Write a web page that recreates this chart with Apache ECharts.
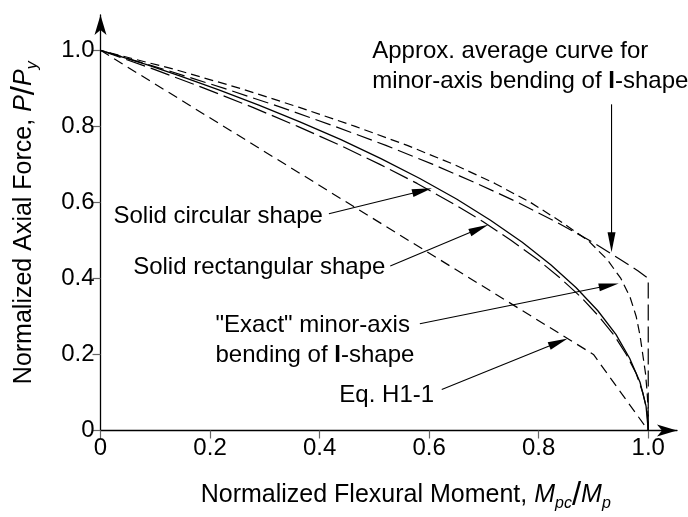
<!DOCTYPE html>
<html>
<head>
<meta charset="utf-8">
<script src="https://cdn.jsdelivr.net/npm/echarts@6/dist/echarts.min.js"></script>
<style>
  html, body { margin: 0; padding: 0; background: #fff; }
  #chart { width: 688px; height: 517px; }
</style>
</head>
<body>
<div id="chart"></div>
<script>
// Tick positions and their printed labels (both axes use the same set)
const tickValues = [0, 0.2, 0.4, 0.6, 0.8, 1.0];
const tickLabels = ['0', '0.2', '0.4', '0.6', '0.8', '1.0'];

// Interaction curves, each point is [M/Mp, P/Py]
const eqH11 = [[0, 1], [0.9, 0.2], [1, 0]];

const solidCircular = [
  [1, 0], [0.996, 0.064], [0.985, 0.127], [0.966, 0.19], [0.941, 0.253],
  [0.908, 0.315], [0.868, 0.376], [0.822, 0.436], [0.77, 0.495], [0.712, 0.553],
  [0.65, 0.609], [0.583, 0.663], [0.512, 0.715], [0.439, 0.765], [0.364, 0.812],
  [0.289, 0.856], [0.216, 0.896], [0.146, 0.932], [0.083, 0.963], [0.03, 0.987], [0, 1]
];

const solidRectangular = [
  [1, 0], [0.998, 0.05], [0.99, 0.1], [0.978, 0.15], [0.96, 0.2], [0.938, 0.25],
  [0.91, 0.3], [0.878, 0.35], [0.84, 0.4], [0.798, 0.45], [0.75, 0.5], [0.698, 0.55],
  [0.64, 0.6], [0.578, 0.65], [0.51, 0.7], [0.438, 0.75], [0.36, 0.8], [0.278, 0.85],
  [0.19, 0.9], [0.098, 0.95], [0, 1]
];

const exactMinorAxisI = [
  [1, 0], [1, 0.05], [0.998, 0.1], [0.995, 0.15], [0.99, 0.2], [0.985, 0.25],
  [0.978, 0.3], [0.967, 0.35], [0.95, 0.4], [0.925, 0.45], [0.89, 0.5], [0.84, 0.55],
  [0.785, 0.6], [0.72, 0.65], [0.645, 0.7], [0.56, 0.75], [0.465, 0.8], [0.363, 0.85],
  [0.255, 0.9], [0.135, 0.95], [0, 1]
];

const approxAverageI = [
  [1, 0], [1, 0.4], [0.981, 0.42], [0.949, 0.45], [0.893, 0.5], [0.83, 0.55],
  [0.762, 0.6], [0.687, 0.65], [0.607, 0.7], [0.521, 0.75], [0.428, 0.8],
  [0.33, 0.85], [0.226, 0.9], [0.116, 0.95], [0, 1]
];

const FONT = '"Liberation Sans", Arial, Helvetica, sans-serif';
const FS = 24;        // tick labels and callouts
const FS_TITLE = 25;  // axis titles
const INK = '#000';

const richMath = {
  i: { fontFamily: FONT, fontSize: FS_TITLE, fontStyle: 'italic', color: INK, lineHeight: 32 },
  sub: { fontFamily: FONT, fontSize: 16, fontStyle: 'italic', color: INK, verticalAlign: 'bottom', lineHeight: 32 },
  sl: { fontFamily: FONT, fontSize: 33, color: INK, lineHeight: 32 }
};

function curve(name, data, dash, width) {
  return {
    name, type: 'line', data, symbol: 'none', smooth: false,
    silent: true, animation: false, clip: false,
    lineStyle: { color: INK, width: width || 1.2, type: dash }
  };
}

const chart = echarts.init(document.getElementById('chart'), null, { renderer: 'canvas' });

const axisCommon = {
  type: 'value',
  min: 0,
  splitLine: { show: false },
  axisLine: {
    show: true, onZero: false,
    symbol: ['none', 'arrow'], symbolSize: [9, 20],
    lineStyle: { color: INK, width: 1.3 }
  },
  axisTick: { show: true, length: 8, customValues: tickValues, lineStyle: { color: '#666', width: 1.2 } },
  axisLabel: {
    customValues: tickValues,
    formatter: v => tickLabels[tickValues.indexOf(v)],
    fontFamily: FONT, fontSize: FS, color: INK, margin: 6
  },
  nameLocation: 'middle'
};

const option = {
  animation: false,
  backgroundColor: '#fff',
  grid: { left: 96, right: 11, top: 15, bottom: 78, containLabel: false },
  xAxis: Object.assign({}, axisCommon, {
    max: 1.0525,
    name: 'Normalized Flexural Moment, {i|M}{sub|pc}{sl|/}{i|M}{sub|p}',
    nameGap: 49,
    nameTextStyle: { fontFamily: FONT, fontSize: FS_TITLE, color: INK, lineHeight: 32, rich: richMath, padding: [0, 0, 0, 34] }
  }),
  yAxis: Object.assign({}, axisCommon, {
    max: 1.093,
    name: 'Normalized Axial Force, {i|P}{sl|/}{i|P}{sub|y}',
    nameGap: 60,
    nameTextStyle: { fontFamily: FONT, fontSize: FS_TITLE, color: INK, lineHeight: 32, rich: richMath }
  }),
  series: [
    curve('Eq. H1-1', eqH11, [10, 6]),
    curve('Solid circular shape', solidCircular, 'solid', 1.3),
    curve('Solid rectangular shape', solidRectangular, [20, 6]),
    curve('"Exact" minor-axis bending of I-shape', exactMinorAxisI, [9, 5]),
    curve('Approx. average curve for minor-axis bending of I-shape', approxAverageI, [16, 6])
  ]
};

chart.setOption(option);

// Callouts: text anchor, alignment and arrow (from -> tip), all in data space
const callouts = [
  { text: 'Approx. average curve for\nminor-axis bending of {b|I}-shape', at: [0.496, 0.959], align: 'left',
    from: [0.933, 0.858], to: [0.933, 0.469] },
  { text: 'Solid circular shape', at: [0.406, 0.564], align: 'right',
    from: [0.417, 0.570], to: [0.605, 0.637] },
  { text: 'Solid rectangular shape', at: [0.520, 0.428], align: 'right',
    from: [0.529, 0.433], to: [0.708, 0.541] },
  { text: '"Exact" minor-axis\nbending of {b|I}-shape', at: [0.210, 0.236], align: 'left',
    from: [0.583, 0.281], to: [0.946, 0.387] },
  { text: 'Eq. H1-1', at: [0.609, 0.093], align: 'right',
    from: [0.623, 0.108], to: [0.853, 0.242] }
];

const toPx = p => chart.convertToPixel({ gridIndex: 0 }, p);
const HEAD_LEN = 20, HEAD_HALF = 4;
const graphics = [];

callouts.forEach(c => {
  const [tx, ty] = toPx(c.at);
  graphics.push({
    type: 'text', x: tx, y: ty, silent: true,
    style: {
      text: c.text, fill: INK, fontFamily: FONT, fontSize: FS,
      align: c.align, verticalAlign: 'middle', lineHeight: 30,
      rich: { b: { fontFamily: FONT, fontSize: FS, fontWeight: 'bold', fill: INK, lineHeight: 30 } }
    }
  });
  const [x1, y1] = toPx(c.from);
  const [x2, y2] = toPx(c.to);
  const len = Math.hypot(x2 - x1, y2 - y1);
  const ux = (x2 - x1) / len, uy = (y2 - y1) / len;
  const bx = x2 - ux * HEAD_LEN, by = y2 - uy * HEAD_LEN;
  graphics.push({
    type: 'line', silent: true,
    shape: { x1, y1, x2: bx + ux * 2, y2: by + uy * 2 },
    style: { stroke: INK, lineWidth: 1.1 }
  });
  graphics.push({
    type: 'polygon', silent: true,
    shape: { points: [[x2, y2], [bx - uy * HEAD_HALF, by + ux * HEAD_HALF], [bx + uy * HEAD_HALF, by - ux * HEAD_HALF]] },
    style: { fill: INK }
  });
});

chart.setOption({ graphic: graphics });
</script>
</body>
</html>
